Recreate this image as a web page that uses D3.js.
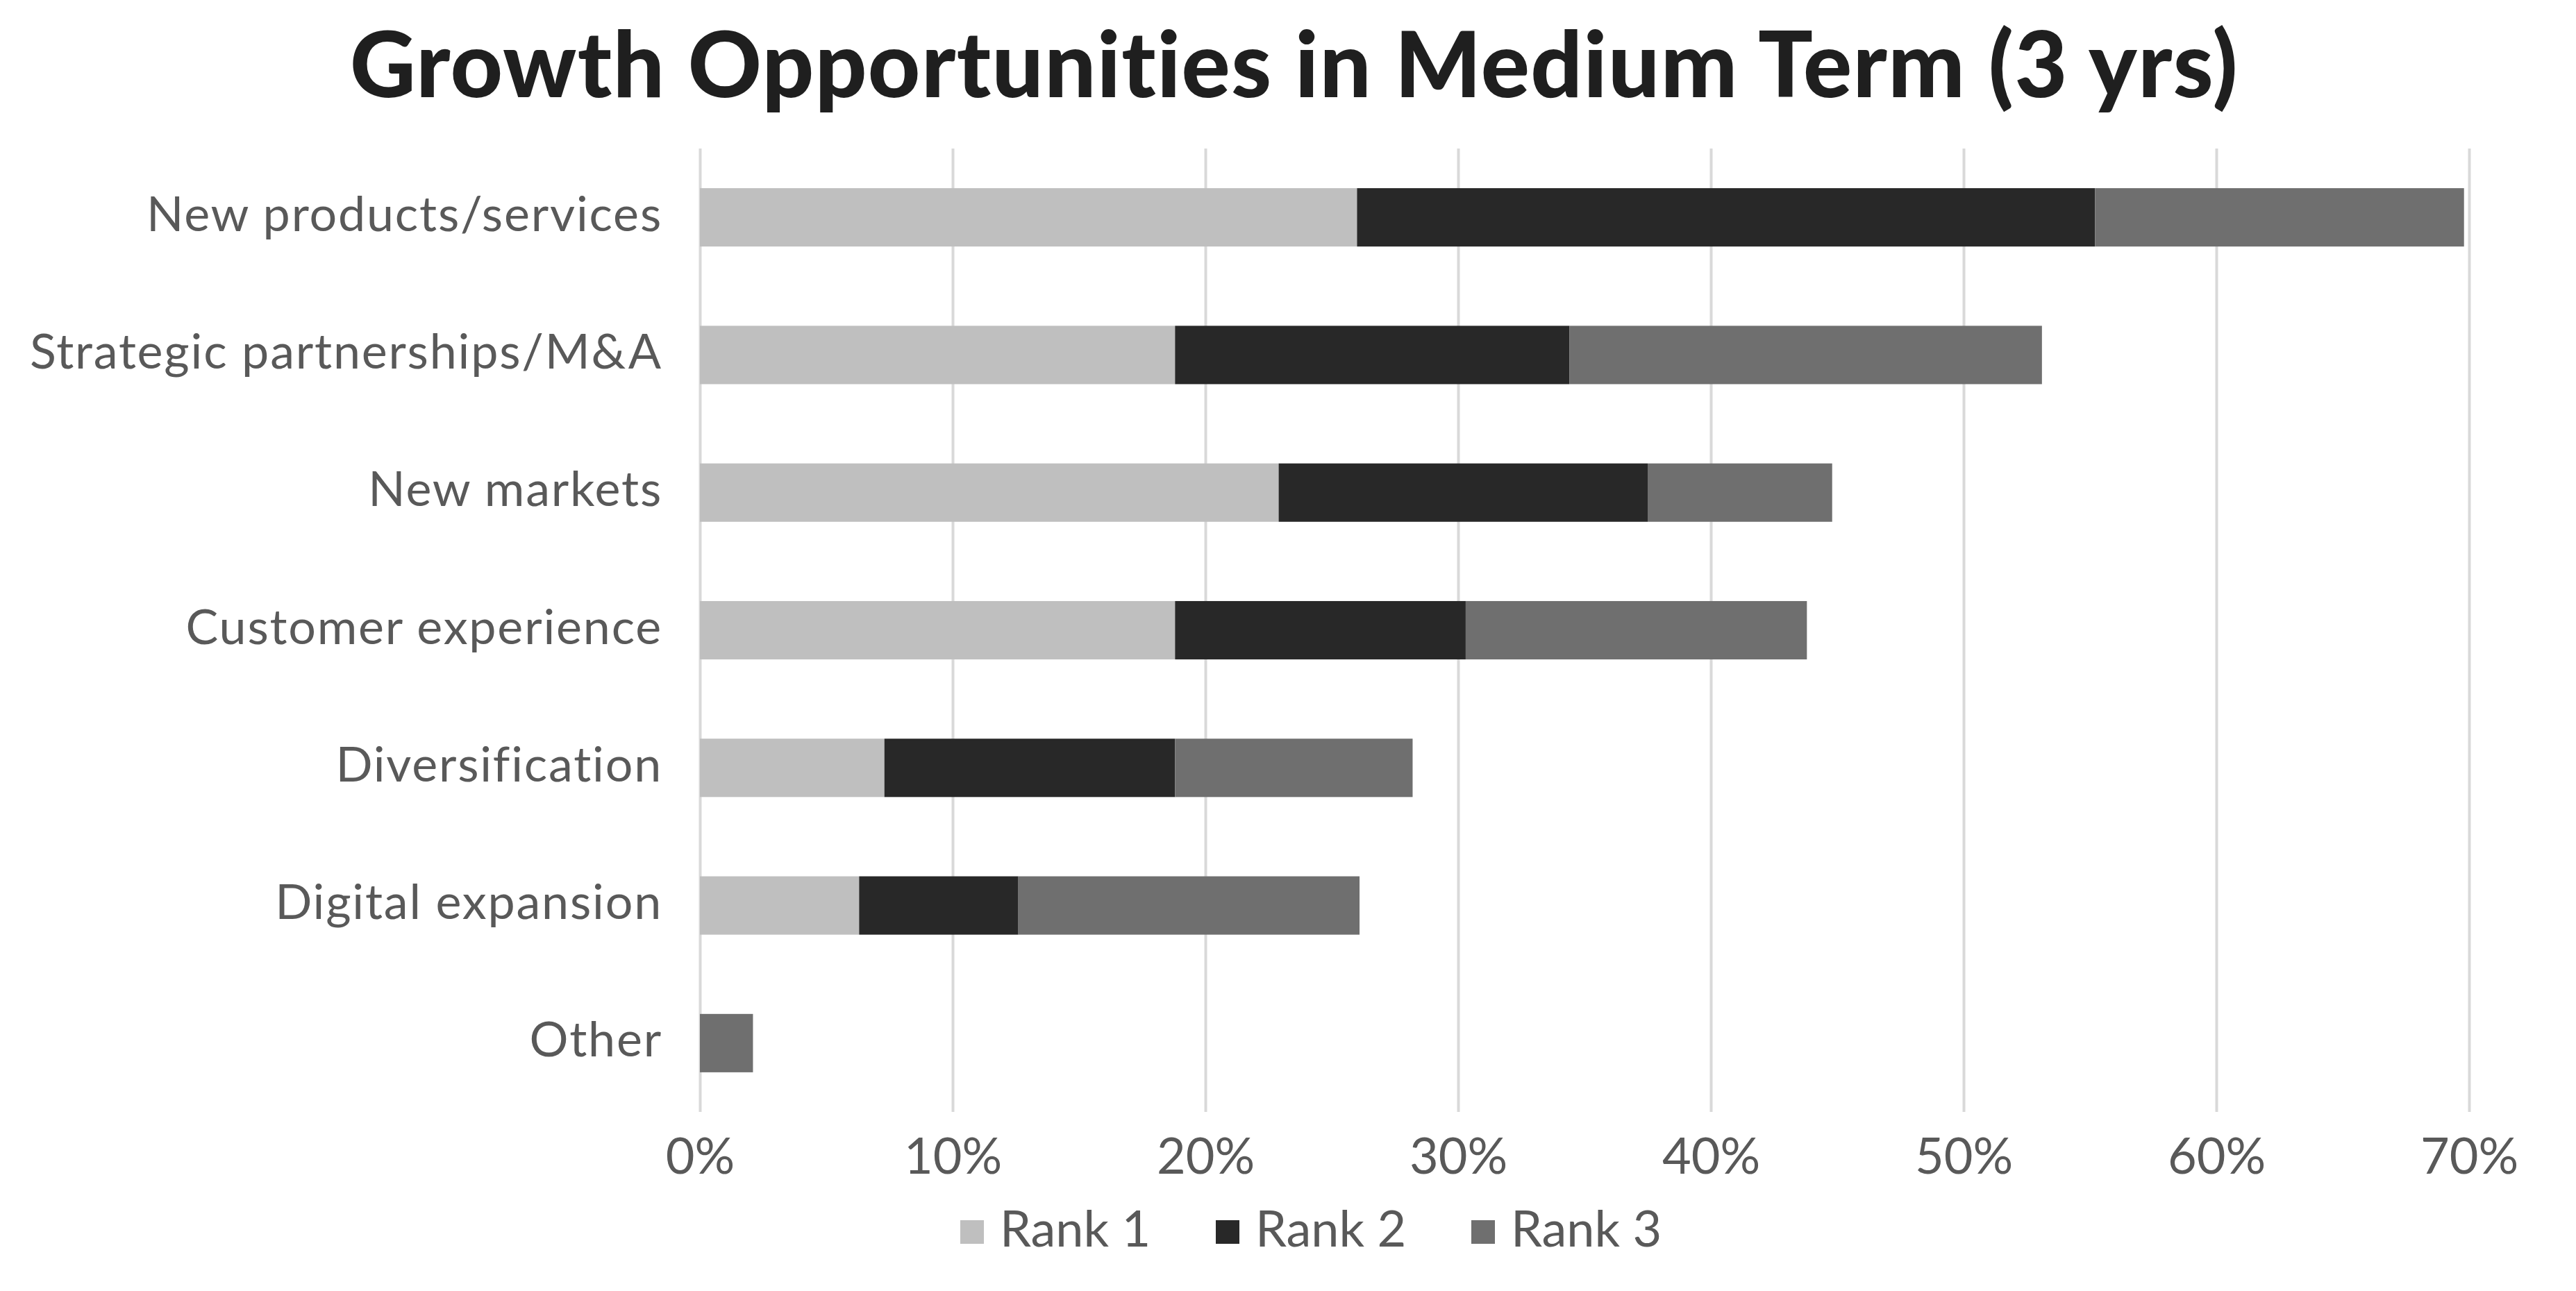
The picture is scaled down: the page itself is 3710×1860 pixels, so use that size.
<html>

<head>
  <script src="https://d3js.org/d3.v7.min.js"></script>
  <style>
    body {
      margin: 0;
      background: white;
    }

    text {
      font-variant-ligatures: none;
    }

    .cTitle {
      fill: #1f1f1f;
      font-family: Lato, sans-serif;
      font-weight: 900;
      font-size: 131px;
      letter-spacing: 1.4px;
    }

    .axisText text {
      fill: #595959;
      font-family: Lato, sans-serif;
    }

    .grid line {
      stroke: #d9d9d9;
      stroke-width: 4;
    }

    .legendText {
      fill: #595959;
      font-family: Lato, sans-serif;
      font-size: 72px;
    }
  </style>
</head>

<body>
  <svg id="chart" width="3710" height="1860"></svg>
  <script>
    // values, in percent
    const categories = ["New products/services", "Strategic partnerships/M&A", "New markets",
      "Customer experience", "Diversification", "Digital expansion", "Other"];
    const seriesNames = ["Rank 1", "Rank 2", "Rank 3"];
    const rank1 = [26.0, 18.8, 22.9, 18.8, 7.3, 6.3, 0];
    const rank2 = [29.2, 15.6, 14.6, 11.5, 11.5, 6.3, 0];
    const rank3 = [14.6, 18.7, 7.3, 13.5, 9.4, 13.5, 2.1];
    const xTicks = [0, 10, 20, 30, 40, 50, 60, 70];
    const colors = ["#bfbfbf", "#282828", "#6f6f6f"];

    let rows = categories.map((c, i) => {
      return { category: c, "Rank 1": rank1[i], "Rank 2": rank2[i], "Rank 3": rank3[i] };
    });

    let svg = d3.select("svg#chart");
    let w = +svg.attr("width");

    let margins = { "left": 1008, "right": 154, "top": 214, "bottom": 258 };
    let chartWidth = w - margins.left - margins.right;
    let plotBottom = 1602;

    let xScale = d3.scaleLinear([0, 70], [margins.left, margins.left + chartWidth]);
    let yScale = d3.scaleBand(categories, [margins.top, plotBottom])
      .paddingInner(0.576)
      .paddingOuter(0.288);
    let colorScale = d3.scaleOrdinal(seriesNames, colors);

    // vertical grid
    let grid = d3.axisBottom(xScale).tickValues(xTicks).tickFormat('').tickSize(-(plotBottom - margins.top));
    svg.append("g")
      .attr("class", "grid")
      .attr("transform", `translate(0, ${plotBottom})`)
      .call(grid)
      .call(g => g.select(".domain").remove());

    // stacked bars
    let stacked = d3.stack().keys(seriesNames)(rows);
    svg.append("g")
      .selectAll("g")
      .data(stacked)
      .join("g")
      .attr("fill", d => colorScale(d.key))
      .selectAll("rect")
      .data(d => d)
      .join("rect")
      .attr("x", d => xScale(d[0]))
      .attr("y", d => yScale(d.data.category))
      .attr("width", d => xScale(d[1]) - xScale(d[0]))
      .attr("height", yScale.bandwidth());

    // bottom axis labels
    let xAxis = d3.axisBottom(xScale).tickValues(xTicks).tickFormat(d => d + "%").tickSize(0);
    svg.append("g")
      .attr("class", "axisText")
      .attr("transform", `translate(0, ${plotBottom})`)
      .call(xAxis)
      .call(g => g.select(".domain").remove())
      .selectAll("text")
      .attr("y", 89)
      .attr("dy", 0)
      .style("font-size", "72px");

    // category labels
    let yAxis = d3.axisLeft(yScale).tickSize(0).tickPadding(54);
    svg.append("g")
      .attr("class", "axisText")
      .attr("transform", `translate(${margins.left}, 0)`)
      .call(yAxis)
      .call(g => g.select(".domain").remove())
      .selectAll("text")
      .attr("dy", "0.28em")
      .style("font-size", "70px")
      .style("letter-spacing", "1.8px");

    // title
    svg.append("text")
      .attr("class", "cTitle")
      .text("Growth Opportunities in Medium Term (3 yrs)")
      .style("text-anchor", "middle")
      .attr("x", 1864)
      .attr("y", 140);

    // legend
    let legendG = svg.append("g")
      .attr("transform", `translate(1383, 1758)`);
    let boxSide = 34;
    let itemStep = 368;

    seriesNames.forEach((name, i) => {
      legendG.append("rect")
        .attr("fill", colorScale(name))
        .attr("x", i * itemStep)
        .attr("y", 0)
        .attr("width", boxSide)
        .attr("height", boxSide);

      legendG.append("text")
        .attr("class", "legendText")
        .text(name)
        .attr("x", i * itemStep + boxSide + 23)
        .attr("y", 38);
    });
  </script>
</body>

</html>
